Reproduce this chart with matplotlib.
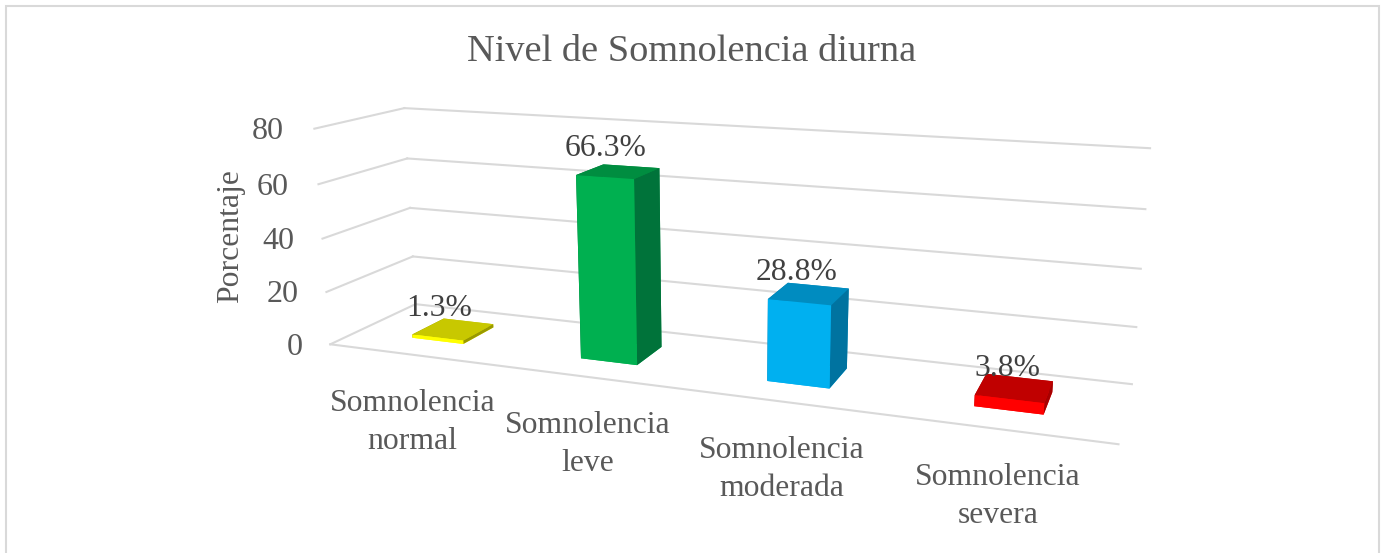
import numpy as np
from matplotlib import pyplot as plt
from matplotlib.patches import Rectangle

categories = ["Somnolencia\nnormal", "Somnolencia\nleve", "Somnolencia\nmoderada", "Somnolencia\nsevera"]
values = [1.3, 66.3, 28.8, 3.8]
labels = ["1.3%", "66.3%", "28.8%", "3.8%"]
ticks = [0, 20, 40, 60, 80]

# front, top and side colour of each bar
front_colors = ["#FFFF00", "#00B050", "#00B0F0", "#FF0000"]
top_colors = ["#C8C800", "#008D40", "#008CC0", "#C00000"]
side_colors = ["#999900", "#00733A", "#0073A0", "#A60000"]

W, H = 1383, 553
S = 1000
GRID = "#D9D9D9"
TEXT = "#595959"
BAR_HALF = 0.1561
BAR_MARGIN = 0.3057

plt.rcParams["font.family"] = ["Liberation Serif", "DejaVu Serif"]


def px(x, y):
    return x / W, 1 - y / H


fig = plt.figure(figsize=(W / 100, H / 100), dpi=100, facecolor="white")
fig.add_artist(Rectangle(px(5.5, 600), 1373 / W, 594.5 / H, transform=fig.transFigure,
                         fill=False, edgecolor=GRID, lw=1.5))

# the camera was fitted against the picture, the axes sits partly outside the figure
cx, cy = 698.5767, 266.4844
ax = fig.add_axes([(cx - S / 2) / W, 1 - (cy + S / 2) / H, S / W, S / H], projection="3d")
ax.set_xlim(0, 4)
ax.set_ylim(0, 1)
ax.set_zlim(0, 80)
ax.view_init(elev=13.9227, azim=-69.2833, roll=0.13)
ax.set_proj_type("persp", focal_length=0.2492)
ax.set_box_aspect((1, 0.2033, 0.2863), zoom=0.8339)
ax.set_axis_off()
ax.patch.set_alpha(0)
ax.computed_zorder = False

for z in ticks:
    ax.plot([0, 4], [1, 1], [z, z], color=GRID, lw=1.5, zorder=1)
    ax.plot([0, 0], [0, 1], [z, z], color=GRID, lw=1.5, zorder=1)
ax.plot([0, 4], [0, 0], [0, 0], color=GRID, lw=1.5, zorder=1)

for i, v in enumerate(values):
    fr, tp, sd = front_colors[i], top_colors[i], side_colors[i]
    ax.bar3d(i + 0.5 - BAR_HALF, BAR_MARGIN, 0, 2 * BAR_HALF, 1 - 2 * BAR_MARGIN, v,
             color=[fr, tp, fr, tp, sd, sd], shade=False, linewidth=0, zorder=3)

fig.text(*px(692, 61), "Nivel de Somnolencia diurna", fontsize=27.6, color=TEXT, ha="center", va="baseline")
fig.text(*px(238, 236), "Porcentaje", fontsize=22.8, color=TEXT, rotation=90,
         ha="center", va="baseline", rotation_mode="anchor")

tick_pos = [(303, 355), (299, 302), (294, 249), (289, 195), (284, 139)]
for t, pos in zip(ticks, tick_pos):
    fig.text(*px(*pos), str(t), fontsize=23, color=TEXT, ha="right", va="baseline")

# y is the baseline of the last line
cat_pos = [(412.5, 449), (587.5, 471), (782, 496), (998, 523)]
for name, pos in zip(categories, cat_pos):
    fig.text(*px(*pos), name, fontsize=22.8, color=TEXT, ha="center", va="baseline",
             multialignment="center", linespacing=1.4)

label_pos = [(439, 316), (605.5, 156), (797, 280), (1007.5, 376)]
for lab, pos in zip(labels, label_pos):
    fig.text(*px(*pos), lab, fontsize=22.8, color="#404040", ha="center", va="baseline", zorder=5)

fig.savefig("out.png", dpi=100)
